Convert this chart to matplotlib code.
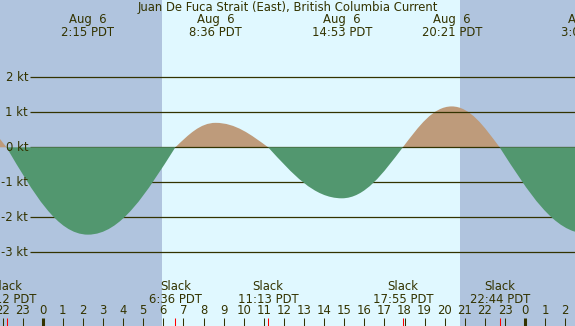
import matplotlib
matplotlib.use("Agg")
import matplotlib.pyplot as plt
from matplotlib.path import Path
from matplotlib.patches import PathPatch
import matplotlib.transforms as mtransforms

# events in hours relative to Aug 6 00:00 PDT
event_hours = [-4.17, -1.80, 2.25, 6.60, 8.60, 11.217, 14.883, 17.917, 20.35, 22.733, 27.08]
event_kt = [1.10, 0.0, -2.50, 0.0, 0.70, 0.0, -1.46, 0.0, 1.17, 0.0, -2.47]

max_labels = [(2.25, "Aug  6", "2:15 PDT"), (8.60, "Aug  6", "8:36 PDT"),
              (14.883, "Aug  6", "14:53 PDT"), (20.35, "Aug  6", "20:21 PDT"),
              (27.08, "Aug  7", "3:05 PDT")]
slack_labels = [(-1.80, "22:12 PDT"), (6.60, "6:36 PDT"), (11.217, "11:13 PDT"),
                (17.917, "17:55 PDT"), (22.733, "22:44 PDT")]
sunrise = 5.935
sunset = 20.76
kt_levels = [2, 1, 0, -1, -2, -3]
hours = list(range(-2, 27))

W, H = 575, 326
px_hr = 20.1
x0_px = 42.7
px_kt = 34.94
y0_px = 147.3

txt = "#333300"
night = "#B0C4DE"
day = "#E0F8FF"
flood_c = "#BE9B7B"
ebb_c = "#52976F"

fig = plt.figure(figsize=(W / 100, H / 100), dpi=100)
ax = fig.add_axes([0, 0, 1, 1])
xmin = -x0_px / px_hr
xmax = (W - x0_px) / px_hr
ax.set_xlim(xmin, xmax)
ax.set_ylim(-(H - y0_px) / px_kt, y0_px / px_kt)
ax.axis("off")

ax.axvspan(xmin, sunrise, color=night, lw=0, zorder=0)
ax.axvspan(sunrise, sunset, color=day, lw=0, zorder=0)
ax.axvspan(sunset, xmax, color=night, lw=0, zorder=0)

pts = list(zip(event_hours, event_kt))


def lobe(i):
    # slack -> max -> slack, bezier pieces shaped like a sine
    if event_kt[i] != 0:
        seg = [(i, i + 1)]
    else:
        seg = [(i, i + 1)]
        if i + 2 < len(pts):
            seg.append((i + 1, i + 2))
    start = pts[i]
    verts, codes = [start], [Path.MOVETO]
    for a, b in seg:
        ta, va = pts[a]
        tb, vb = pts[b]
        dt = tb - ta
        if va == 0:
            p1 = (ta + 0.33 * dt, va + 0.518 * (vb - va))
            p2 = (tb - 0.38 * dt, vb)
        else:
            p1 = (ta + 0.38 * dt, va)
            p2 = (tb - 0.33 * dt, vb + 0.518 * (va - vb))
        verts += [p1, p2, (tb, vb)]
        codes += [Path.CURVE4] * 3
    verts += [(verts[-1][0], 0), (start[0], 0), start]
    codes += [Path.LINETO, Path.LINETO, Path.CLOSEPOLY]
    return Path(verts, codes)


lobes = [0, 1, 3, 5, 7, 9]
for i in lobes:
    v = event_kt[i] if event_kt[i] != 0 else event_kt[i + 1]
    if v > 0:
        ax.add_patch(PathPatch(lobe(i), fc=flood_c, ec="none", zorder=2))

ax.hlines(kt_levels, (30 - x0_px) / px_hr, xmax, color=txt, lw=0.9, zorder=3)

for i in lobes:
    v = event_kt[i] if event_kt[i] != 0 else event_kt[i + 1]
    if v < 0:
        ax.add_patch(PathPatch(lobe(i), fc=ebb_c, ec="none", zorder=4))

ytr = mtransforms.blended_transform_factory(ax.transData, fig.transFigure)
fs = 8.4
for k in kt_levels:
    ax.text((28 - x0_px) / px_hr, k, f"{k} kt", ha="right", va="center",
            color=txt, fontsize=fs, zorder=6)

fig.text(0.5, 1 - 7.5 / H, "Juan De Fuca Strait (East), British Columbia Current",
         ha="center", va="center", color=txt, fontsize=fs)

for t, d, s in max_labels:
    ax.text(t, 1 - 20 / H, d, transform=ytr, ha="center", va="center", color=txt, fontsize=fs, zorder=6)
    ax.text(t, 1 - 32 / H, s, transform=ytr, ha="center", va="center", color=txt, fontsize=fs, zorder=6)

for t, s in slack_labels:
    ax.text(t, 1 - 287 / H, "Slack", transform=ytr, ha="center", va="center", color=txt, fontsize=fs, zorder=6)
    ax.text(t, 1 - 299.5 / H, s, transform=ytr, ha="center", va="center", color=txt, fontsize=fs, zorder=6)

for h in hours:
    ax.text(h, 1 - 311 / H, str(h % 24), transform=ytr, ha="center", va="center", color=txt, fontsize=fs, zorder=6)
    lw = 2.2 if h % 24 == 0 else 0.75
    ax.vlines(h, 0, 8.5 / H, transform=ytr, color=txt, lw=lw, zorder=6)

for t, s in slack_labels:
    ax.vlines(t, 0, 8.5 / H, transform=ytr, color="red", lw=0.75, zorder=7)

fig.savefig("out.png", dpi=100)
